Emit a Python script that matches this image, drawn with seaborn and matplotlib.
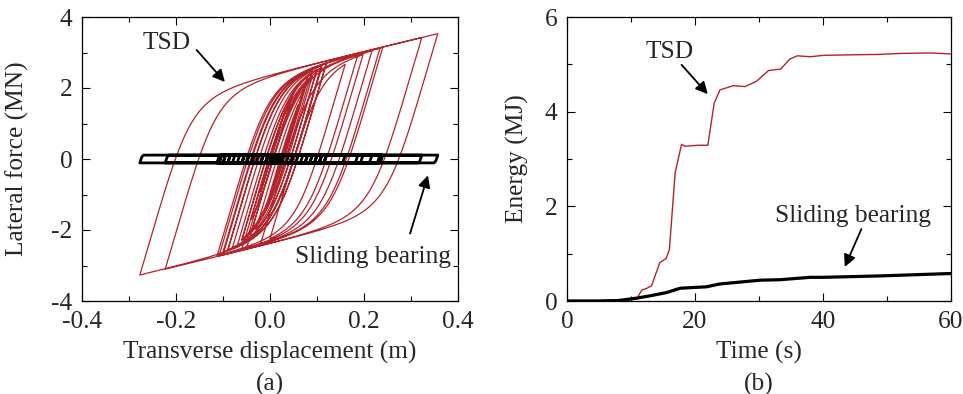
import numpy as np
import pandas as pd
import matplotlib
matplotlib.use("Agg")
import matplotlib.pyplot as plt
import seaborn as sns
from matplotlib.ticker import MultipleLocator, FormatStrFormatter

# (a) displacement reversal points (m)
disp_reversals = [0.01, -0.01, 0.02, -0.02, 0.03, -0.02, 0.05, -0.04,
                  0.08, -0.06, 0.10, -0.09, 0.11, -0.10, 0.12,
                  -0.277, 0.357, -0.223, 0.323, -0.113, 0.24, -0.10, 0.234,
                  -0.05, 0.217, -0.02, 0.198, -0.06, 0.187, 0.0, 0.16,
                  -0.108, 0.12, -0.09, 0.11, -0.07, 0.10, -0.08, 0.09, -0.06,
                  0.11, -0.05, 0.08, -0.04, 0.09, -0.03, 0.07, -0.01, 0.06,
                  0.0, 0.05, 0.01, 0.04, 0.02, 0.03]

# loop envelope
tsd_k0 = 45.0       # elastic stiffness (MN/m)
tsd_k2 = 3.2        # post-yield stiffness (MN/m)
tsd_f0 = 2.39       # yield line intercept at zero displacement (MN)
bearing_k0 = 40.0
bearing_mu = 0.11   # friction force of the sliding bearing (MN)

# (b) cumulative dissipated energy
time_tsd = [0, 5, 10, 10.9, 11.7, 12.5, 13.2, 14.5, 15.5, 16.0, 16.9, 17.9,
            18.4, 20.5, 22.0, 23.0, 23.9, 26.0, 27.8, 29.6, 31.5, 33.4, 34.8,
            36.0, 38.0, 40.1, 44.0, 48.9, 52.0, 56.7, 60.0]
energy_tsd = [0.01, 0.01, 0.03, 0.05, 0.23, 0.27, 0.32, 0.81, 0.90, 1.09, 2.71,
              3.31, 3.27, 3.29, 3.29, 4.18, 4.46, 4.55, 4.53, 4.64, 4.87, 4.90,
              5.11, 5.18, 5.16, 5.19, 5.20, 5.21, 5.23, 5.24, 5.22]
time_bearing = [0, 5, 8, 10.9, 13.0, 15.6, 17.7, 21.8, 23.9, 30.2, 33.3, 38.0,
                40.0, 48.9, 59.8, 60.0]
energy_bearing = [0.0, 0.0, 0.01, 0.06, 0.11, 0.18, 0.27, 0.30, 0.36, 0.44,
                  0.45, 0.50, 0.50, 0.53, 0.58, 0.58]

RED = "#B5232B"


def loop_path(reversals, k0, k2, f0, r, n=150):
    """Menegotto-Pinto branches between displacement reversals."""
    b = k2 / k0
    xs, fs = [0.0], [0.0]
    xr, fr = 0.0, 0.0
    for target in reversals:
        d = 1.0 if target > xr else -1.0
        xc = (d * f0 - fr + k0 * xr) / (k0 - k2)
        fc = fr + k0 * (xc - xr)
        x = np.linspace(xr, target, n)[1:]
        e = (x - xr) / (xc - xr)
        s = b * e + (1 - b) * e / (1 + np.abs(e) ** r) ** (1 / r)
        f = fr + s * (fc - fr)
        xs.extend(x)
        fs.extend(f)
        xr, fr = target, f[-1]
    return pd.DataFrame({"disp": xs, "force": fs})


tsd = loop_path(disp_reversals, tsd_k0, tsd_k2, tsd_f0, 4.0)
bearing = loop_path(disp_reversals, bearing_k0, 0.0, bearing_mu, 20.0)

sns.set_style("ticks")
plt.rcParams["font.family"] = ["Liberation Serif", "DejaVu Serif"]
plt.rcParams["axes.unicode_minus"] = False
plt.rcParams["font.size"] = 18.3

fig = plt.figure(figsize=(9.63, 3.94), dpi=100)
ax1 = fig.add_axes([82 / 963, 1 - 301 / 394, 376 / 963, 284 / 394])
ax2 = fig.add_axes([567 / 963, 1 - 301 / 394, 384 / 963, 284 / 394])

sns.lineplot(data=tsd, x="disp", y="force", sort=False, estimator=None,
             color=RED, lw=0.9, ax=ax1)
sns.lineplot(data=bearing, x="disp", y="force", sort=False, estimator=None,
             color="black", lw=2.0, ax=ax1)
ax1.set_xlim(-0.4, 0.4)
ax1.set_ylim(-4, 4)
ax1.xaxis.set_major_locator(MultipleLocator(0.2))
ax1.xaxis.set_minor_locator(MultipleLocator(0.1))
ax1.xaxis.set_major_formatter(FormatStrFormatter("%.1f"))
ax1.yaxis.set_major_locator(MultipleLocator(2))
ax1.yaxis.set_minor_locator(MultipleLocator(1))
ax1.set_xlabel("Transverse displacement (m)")
ax1.set_ylabel("Lateral force (MN)")
ax1.xaxis.set_label_coords(0.5, -0.14)
ax1.yaxis.set_label_coords(-0.141, 0.5)

arrow = dict(arrowstyle="-|>", color="black", lw=1.3, mutation_scale=18,
             shrinkA=0, shrinkB=0)
ax1.text(-0.220, 3.26, "TSD", ha="center", va="center")
ax1.annotate("", xy=(-0.096, 2.17), xytext=(-0.156, 3.07), arrowprops=arrow)
ax1.text(0.219, -2.77, "Sliding bearing", ha="center", va="center")
ax1.annotate("", xy=(0.336, -0.46), xytext=(0.298, -2.1), arrowprops=arrow)

sns.lineplot(x=time_tsd, y=energy_tsd, color=RED, lw=1.0, ax=ax2)
sns.lineplot(x=time_bearing, y=energy_bearing, color="black", lw=2.3, ax=ax2)
ax2.set_xlim(0, 60)
ax2.set_ylim(0, 6)
ax2.xaxis.set_major_locator(MultipleLocator(20))
ax2.xaxis.set_minor_locator(MultipleLocator(10))
ax2.yaxis.set_major_locator(MultipleLocator(2))
ax2.yaxis.set_minor_locator(MultipleLocator(1))
ax2.set_xlabel("Time (s)")
ax2.set_ylabel("Energy (MJ)")
ax2.xaxis.set_label_coords(0.5, -0.14)
ax2.yaxis.set_label_coords(-0.099, 0.5)
ax2.text(16.1, 5.26, "TSD", ha="center", va="center")
ax2.annotate("", xy=(22.0, 4.37), xytext=(17.9, 4.99), arrowprops=arrow)
ax2.text(44.7, 1.79, "Sliding bearing", ha="center", va="center")
ax2.annotate("", xy=(43.4, 0.72), xytext=(46.0, 1.52), arrowprops=arrow)

for ax in (ax1, ax2):
    ax.tick_params(which="both", direction="in", top=True, right=True,
                   color="black", width=0.8)
    ax.tick_params(which="major", length=6, pad=7)
    ax.tick_params(which="minor", length=3.5)
    for s in ax.spines.values():
        s.set_visible(True)
        s.set_color("black")
        s.set_linewidth(0.9)

fig.text(270 / 963, 1 - 384 / 394, "(a)", ha="center", va="center")
fig.text(759 / 963, 1 - 384 / 394, "(b)", ha="center", va="center")

fig.savefig("out.png", dpi=100)
